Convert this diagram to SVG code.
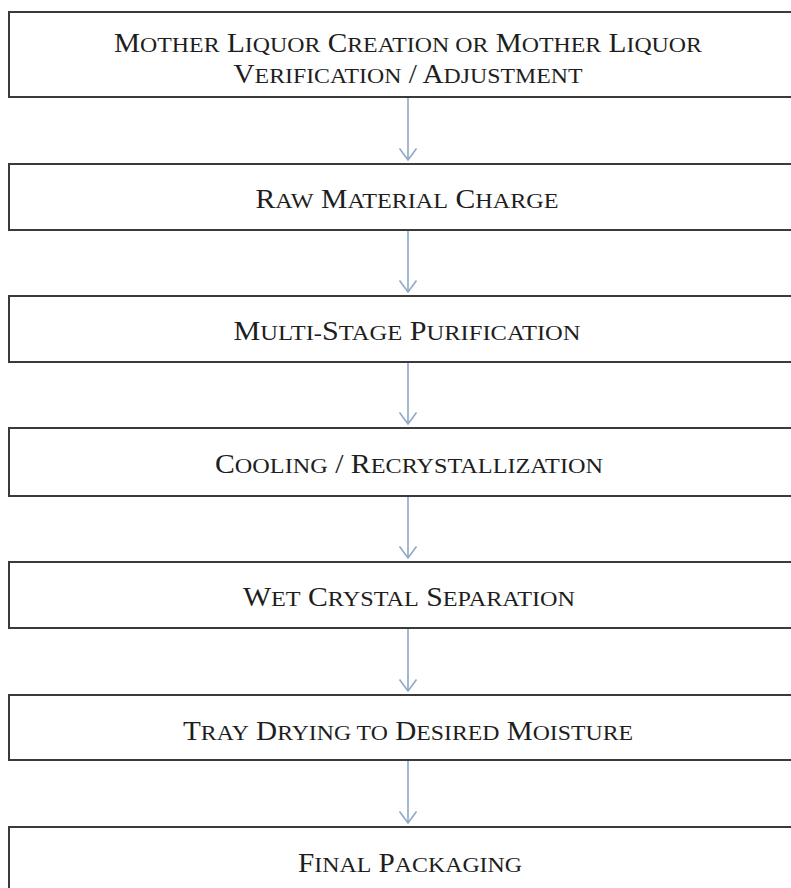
<svg xmlns="http://www.w3.org/2000/svg" width="791" height="888" viewBox="0 0 791 888">
<style>
.box{fill:#fff;stroke:#3a3a3a;stroke-width:2}
.t{font-family:"Liberation Serif","Times New Roman",serif;font-size:27px;fill:#1e1e1e;text-anchor:middle}
.s{font-size:22px}
.arr{stroke:#8ea7c6;stroke-width:1.6;fill:none}
</style>
<defs>
<marker id="ah" markerWidth="14" markerHeight="20" refX="12" refY="9" orient="auto" markerUnits="userSpaceOnUse" viewBox="0 0 14 18">
<path d="M0.5,0.5 L12,9 L0.5,17.5" fill="none" stroke="#8ea7c6" stroke-width="1.6"/>
</marker>
</defs>
<rect width="791" height="888" fill="#fff"/>
<g id="connectors">
<line class="arr" x1="408" y1="98" x2="408" y2="160" marker-end="url(#ah)"/>
<line class="arr" x1="408" y1="231" x2="408" y2="292" marker-end="url(#ah)"/>
<line class="arr" x1="408" y1="363" x2="408" y2="424" marker-end="url(#ah)"/>
<line class="arr" x1="408" y1="497" x2="408" y2="558" marker-end="url(#ah)"/>
<line class="arr" x1="408" y1="629" x2="408" y2="691" marker-end="url(#ah)"/>
<line class="arr" x1="408" y1="761" x2="408" y2="823" marker-end="url(#ah)"/>
</g>
<g id="n1">
<rect class="box" x="9" y="12" width="820" height="85"/>
<text class="t" x="408" y="52" textLength="588" lengthAdjust="spacingAndGlyphs">M<tspan class="s">OTHER</tspan> L<tspan class="s">IQUOR</tspan> C<tspan class="s">REATION OR</tspan> M<tspan class="s">OTHER</tspan> L<tspan class="s">IQUOR</tspan></text>
<text class="t" x="408" y="83" textLength="349" lengthAdjust="spacingAndGlyphs">V<tspan class="s">ERIFICATION</tspan> / A<tspan class="s">DJUSTMENT</tspan></text>
</g>
<g id="n2">
<rect class="box" x="9" y="164" width="820" height="66"/>
<text class="t" x="407" y="208" textLength="303" lengthAdjust="spacingAndGlyphs">R<tspan class="s">AW</tspan> M<tspan class="s">ATERIAL</tspan> C<tspan class="s">HARGE</tspan></text>
</g>
<g id="n3">
<rect class="box" x="9" y="296" width="820" height="66"/>
<text class="t" x="407" y="340" textLength="347" lengthAdjust="spacingAndGlyphs">M<tspan class="s">ULTI-</tspan>S<tspan class="s">TAGE</tspan> P<tspan class="s">URIFICATION</tspan></text>
</g>
<g id="n4">
<rect class="box" x="9" y="428" width="820" height="68"/>
<text class="t" x="409" y="473" textLength="388" lengthAdjust="spacingAndGlyphs">C<tspan class="s">OOLING</tspan> / R<tspan class="s">ECRYSTALLIZATION</tspan></text>
</g>
<g id="n5">
<rect class="box" x="9" y="562" width="820" height="66"/>
<text class="t" x="409" y="606" textLength="332" lengthAdjust="spacingAndGlyphs">W<tspan class="s">ET</tspan> C<tspan class="s">RYSTAL</tspan> S<tspan class="s">EPARATION</tspan></text>
</g>
<g id="n6">
<rect class="box" x="9" y="695" width="820" height="65"/>
<text class="t" x="408" y="740" textLength="450" lengthAdjust="spacingAndGlyphs">T<tspan class="s">RAY</tspan> D<tspan class="s">RYING TO</tspan> D<tspan class="s">ESIRED</tspan> M<tspan class="s">OISTURE</tspan></text>
</g>
<g id="n7">
<rect class="box" x="9" y="827" width="820" height="80"/>
<text class="t" x="410" y="872" textLength="224" lengthAdjust="spacingAndGlyphs">F<tspan class="s">INAL</tspan> P<tspan class="s">ACKAGING</tspan></text>
</g>
</svg>
